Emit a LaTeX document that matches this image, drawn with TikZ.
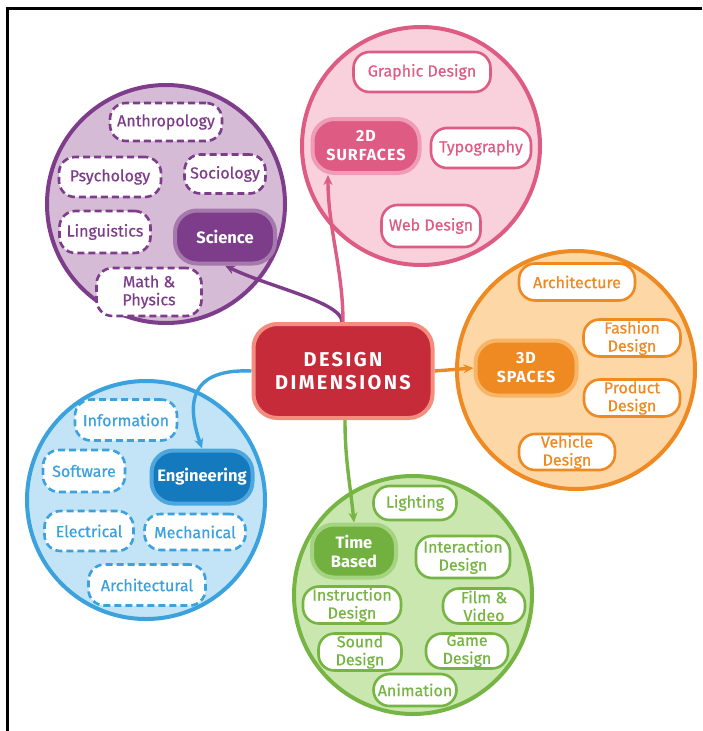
\documentclass[tikz,border=0pt]{standalone}
\usepackage{fontspec}
\setmainfont{Fira Sans}
\newfontfamily\leaffont{Fira Sans}[FakeBold=0.6]
\usetikzlibrary{arrows.meta}
\definecolor{purpleD}{HTML}{7E3D8A}
\definecolor{purpleL}{HTML}{D5BBD6}
\definecolor{purpleH}{HTML}{A679AC}
\definecolor{pinkD}{HTML}{DE5C84}
\definecolor{pinkL}{HTML}{F8D1DC}
\definecolor{pinkH}{HTML}{EF9DB6}
\definecolor{orangeD}{HTML}{EF8A22}
\definecolor{orangeL}{HTML}{FDD8A6}
\definecolor{orangeH}{HTML}{F8B566}
\definecolor{blueD}{HTML}{3BA2DD}
\definecolor{blueL}{HTML}{C3E4F6}
\definecolor{blueF}{HTML}{1479BD}
\definecolor{blueH}{HTML}{4DA6DD}
\definecolor{greenD}{HTML}{76B543}
\definecolor{greenL}{HTML}{CAE7B0}
\definecolor{greenF}{HTML}{72B13F}
\definecolor{greenH}{HTML}{A5D481}
\definecolor{redF}{HTML}{C62B3A}
\definecolor{salmon}{HTML}{F58D7E}
\pgfdeclarelayer{bg}
\pgfdeclarelayer{mid}
\pgfsetlayers{bg,mid,main}
\begin{document}
\begin{tikzpicture}[x=1pt,y=-1pt,
  grp/.style={circle, inner sep=0pt, minimum size=238pt, line width=4pt},
  leaf/.style={rounded corners=16pt, line width=2.6pt, fill=white, inner sep=0pt, align=center, font=\fontsize{16}{18}\leaffont},
  dleaf/.style={leaf, dash pattern=on 7pt off 4pt},
  hub/.style={rounded corners=22pt, line width=4pt, inner sep=0pt, align=center, text=white, font=\fontsize{16.5}{19}\selectfont\bfseries},
  link/.style={line width=3.4pt, -{Stealth[length=10pt,width=9pt]}},
  sz/.style 2 args={minimum width=#1pt, minimum height=#2pt}]
\useasboundingbox (0,0) rectangle (702,731);

\begin{pgfonlayer}{bg}
\fill[white] (0,0) rectangle (702,731);
\draw[line width=3pt] (7,731) -- (7,8) -- (702,8);
\node[grp, draw=purpleD, fill=purpleL] (cP) at (166,204) {};
\node[grp, draw=pinkD, fill=pinkL] (cK) at (421,146) {};
\node[grp, draw=orangeD, fill=orangeL] (cO) at (576,370) {};
\node[grp, draw=blueD, fill=blueL] (cB) at (146,500) {};
\node[grp, draw=greenD, fill=greenL] (cG) at (413,595) {};
\end{pgfonlayer}

% central
\node[rounded corners=24pt, line width=4pt, draw=salmon, fill=redF, text=white, align=center, inner sep=0pt, sz={179}{94},
  font=\fontsize{20}{23}\selectfont\bfseries\addfontfeature{LetterSpace=12}] (dd) at (343,371) {DESIGN\\DIMENSIONS};

% hubs
\node[hub, draw=purpleH, fill=purpleD, sz={100}{53}] (sci) at (225,237) {Science};
\node[hub, draw=pinkH, fill=pinkD, sz={107}{54}, font=\fontsize{16}{19}\selectfont\bfseries\addfontfeature{LetterSpace=6}] (surf) at (366,146) {2D\\SURFACES};
\node[hub, draw=orangeH, fill=orangeD, sz={101}{55}, font=\fontsize{16}{19}\selectfont\bfseries\addfontfeature{LetterSpace=6}] (spaces) at (526,368) {3D\\SPACES};
\node[hub, draw=blueH, fill=blueF, sz={101}{53}] (eng) at (202,477) {Engineering};
\node[hub, draw=greenH, fill=greenF, sz={84}{53}] (time) at (354,551) {Time\\Based};

% purple leaves
\begin{scope}[every node/.style={dleaf, draw=purpleD, text=purpleD}]
\node[sz={112}{38}] (anth) at (166,122) {Anthropology};
\node[sz={102}{40}] (psy) at (110,177) {Psychology};
\node[sz={81}{39}] (soc) at (225,174) {Sociology};
\node[sz={91}{42}] (ling) at (105,232) {Linguistics};
\node[sz={105}{48}] (math) at (149,292) {Math \&\\Physics};
\end{scope}

% pink leaves
\begin{scope}[every node/.style={leaf, draw=pinkD, text=pinkD}]
\node[sz={137}{40}] (gd) at (422,72) {Graphic Design};
\node[sz={100}{40}] (typo) at (481,148) {Typography};
\node[sz={99}{42}] (web) at (431,226) {Web Design};
\end{scope}

% orange leaves
\begin{scope}[every node/.style={leaf, draw=orangeD, text=orangeD}]
\node[sz={116}{37}] (arch) at (577,282) {Architecture};
\node[sz={97}{37}] (fash) at (632,338) {Fashion\\Design};
\node[sz={96}{37}] (prod) at (632,398) {Product\\Design};
\node[sz={96}{36}] (veh) at (567,452) {Vehicle\\Design};
\end{scope}

% blue leaves
\begin{scope}[every node/.style={dleaf, draw=blueD, text=blueD}]
\node[sz={102}{41}] (info) at (126,420) {Information};
\node[sz={82}{42}] (soft) at (84,471) {Software};
\node[sz={89}{40}] (elec) at (89,531) {Electrical};
\node[sz={101}{36}] (mech) at (195,532) {Mechanical};
\node[sz={117}{41}] (archl) at (147,585) {Architectural};
\end{scope}

% green leaves
\begin{scope}[every node/.style={leaf, draw=greenD, text=greenD}]
\node[sz={83}{34}] (light) at (415,503) {Lighting};
\node[sz={94}{42}] (inter) at (463,557) {Interaction\\Design};
\node[sz={98}{37}] (instr) at (352,605) {Instruction\\Design};
\node[sz={82}{35}] (film) at (484,606) {Film \&\\Video};
\node[sz={83}{37}] (sound) at (360,652) {Sound\\Design};
\node[sz={82}{35}] (game) at (467,651) {Game\\Design};
\node[sz={83}{32}] (anim) at (415,690) {Animation};
\end{scope}

\begin{pgfonlayer}{mid}
\draw[link, purpleD] ([xshift=-1pt]dd.north) .. controls +(0,-20) and +(45,22) .. (sci.south);
\draw[link, pinkD] (dd.north) .. controls +(0,-52) and +(0,53) .. ([xshift=-38pt]surf.south);
\draw[link, orangeD] (dd.east) -- (spaces.west);
\draw[link, blueD] (dd.west) .. controls +(-70,-3) and +(-12,-35) .. (eng.north);
\draw[link, greenD] ([xshift=2pt]dd.south) .. controls +(0,40) and +(-4,-40) .. (time.north);
\end{pgfonlayer}
\end{tikzpicture}
\end{document}
